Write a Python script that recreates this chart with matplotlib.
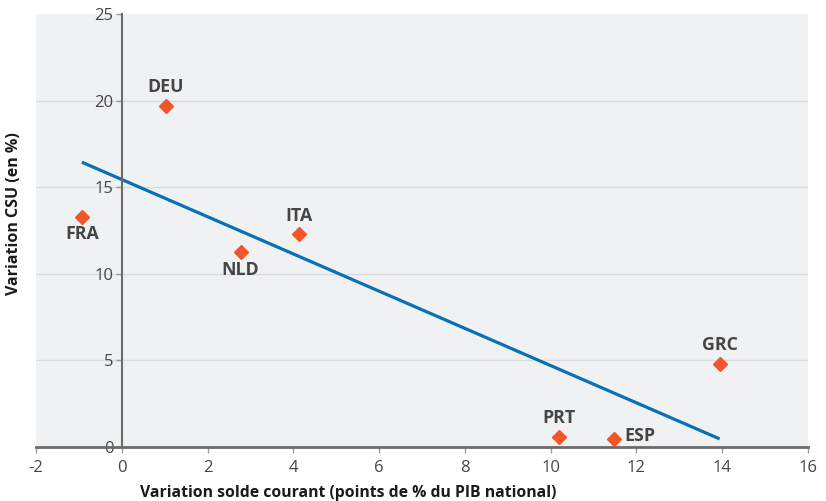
import numpy as np
import matplotlib
matplotlib.use("Agg")
import matplotlib.pyplot as plt

# data
countries = ["FRA", "DEU", "NLD", "ITA", "PRT", "ESP", "GRC"]
solde = [-0.93, 1.03, 2.77, 4.13, 10.19, 11.47, 13.94]
csu = [13.3, 19.7, 11.24, 12.28, 0.58, 0.46, 4.78]
label_pos = ["below", "above", "below", "above", "above", "right", "above"]

x_ticks = [-2, 0, 2, 4, 6, 8, 10, 12, 14, 16]
y_ticks = [0, 5, 10, 15, 20, 25]

plt.rcParams['font.family'] = ['Open Sans', 'DejaVu Sans']
plt.rcParams['axes.unicode_minus'] = False
txt_col = "#454545"

fig = plt.figure(figsize=(8.26, 5.01), dpi=100)
ax = fig.add_axes([36 / 826, 54 / 501, 772 / 826, 433 / 501])
ax.set_facecolor("#f0f1f3")
ax.set_xlim(-2, 16)
ax.set_ylim(0, 25)

for y in y_ticks[1:-1]:
    ax.axhline(y, color="#dadbdd", lw=1, zorder=0)

for s in ["top", "right"]:
    ax.spines[s].set_visible(False)
ax.spines["left"].set_position(("data", 0))
ax.spines["left"].set_color("#6b6b6b")
ax.spines["left"].set_linewidth(1.5)
ax.spines["bottom"].set_color("#6b6b6b")
ax.spines["bottom"].set_linewidth(2)

ax.set_xticks(x_ticks)
ax.set_yticks(y_ticks)
ax.tick_params(axis="both", colors="#9a9a9a", labelcolor=txt_col,
               labelsize=12, length=4, width=1)
ax.tick_params(axis="y", pad=2)
ax.tick_params(axis="x", pad=5)

# regression line across the data
slope, intercept = np.polyfit(solde, csu, 1)
xs = np.array([min(solde), max(solde)])
ax.plot(xs, slope * xs + intercept, color="#0b70b3", lw=2.3, zorder=2,
        solid_capstyle="butt")

ax.plot(solde, csu, "D", color="#f0562a", ms=7.5, mec="#f0562a", zorder=3,
        linestyle="none")

offsets = {"above": (0, 7, "center", "bottom"),
           "below": (0, -6, "center", "top"),
           "right": (8, 2, "left", "center")}
for c, x, y, p in zip(countries, solde, csu, label_pos):
    dx, dy, ha, va = offsets[p]
    ax.annotate(c, (x, y), xytext=(dx, dy), textcoords="offset points",
                ha=ha, va=va, fontsize=12.8, fontweight="bold", color=txt_col)

ax.set_xlabel("Variation solde courant (points de % du PIB national)",
              fontsize=11.3, fontweight="bold", color="#1a1a1a")
ax.xaxis.set_label_coords(0.404, -0.088)
ax.set_ylabel("Variation CSU (en %)", fontsize=11.5, fontweight="bold",
              color="#1a1a1a")
ax.yaxis.set_label_coords(-0.018, 0.54)

fig.savefig("out.png", dpi=100)
